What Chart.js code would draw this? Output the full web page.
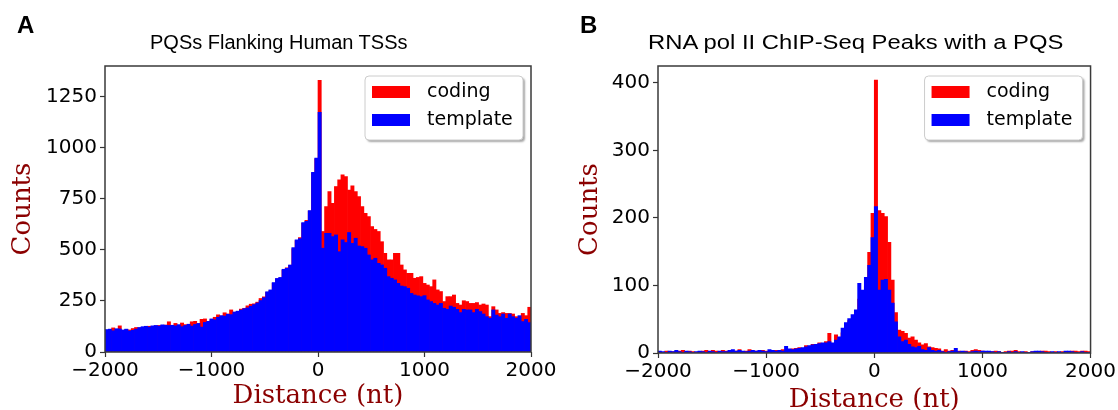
<!DOCTYPE html>
<html lang="en">
<head>
<meta charset="UTF-8">
<script src="https://cdn.jsdelivr.net/npm/chart.js"></script>
<title>PQS histograms</title>
<style>
  body { margin: 0; background: #fff; width: 1118px; height: 410px; position: relative; overflow: hidden; }
  .panel { position: absolute; top: 0; }
  .letter { position: absolute; font: bold 24px "Liberation Sans", Arial, sans-serif; line-height: 24px; }
  .title { position: absolute; font: 20px "Liberation Sans", Arial, sans-serif; line-height: 20px; white-space: nowrap; transform-origin: left top; }
</style>
</head>
<body>
<canvas class="panel" id="panelA" width="559" height="410" style="left:0"></canvas>
<canvas class="panel" id="panelB" width="559" height="410" style="left:559px"></canvas>
<div class="letter" style="left:17px; top:13px">A</div>
<div class="title" style="left:150px; top:32px">PQSs Flanking Human TSSs</div>
<div class="letter" style="left:580px; top:13px">B</div>
<div class="title" style="left:648px; top:32px; transform: scaleX(1.19)">RNA pol II ChIP-Seq Peaks with a PQS</div>
<script>
const xTicks = [-2000, -1000, 0, 1000, 2000];
const yTicksA = [0, 250, 500, 750, 1000, 1250];
const yTicksB = [0, 100, 200, 300, 400];
const binCount = 130; // ~31 nt bins from -2000 to 2000

// panel A: PQSs flanking human TSSs
const codingA = [
  106,108,118,110,128,104,110,108,115,120,
  118,120,124,126,125,128,130,128,132,148,
  128,140,130,142,134,130,148,150,138,160,
  162,150,158,170,182,176,192,186,206,194,
  198,210,214,226,234,236,244,262,270,292,
  300,336,358,362,400,412,424,505,545,560,
  630,645,690,875,945,1330,
  590,712,785,728,810,843,867,859,793,813,
  785,761,712,679,663,614,600,590,540,483,
  451,451,483,483,426,402,385,385,361,365,
  369,336,328,320,353,304,296,247,271,271,
  279,238,230,251,247,238,238,242,230,235,
  230,173,222,206,189,193,189,189,186,173,
  165,189,178,219
];
const templateA = [
  110,112,104,114,113,108,112,103,106,112,
  120,124,126,122,128,130,127,133,131,130,
  131,128,134,124,130,136,127,135,140,122,
  145,150,162,158,170,178,176,185,183,196,
  200,205,212,216,224,232,240,252,266,295,
  304,340,360,365,405,410,426,511,549,555,
  634,640,692,880,949,1173,
  508,581,581,565,573,491,549,536,585,532,
  557,519,516,508,475,451,459,434,426,410,
  369,361,353,336,323,320,312,287,279,275,
  271,276,255,247,238,230,238,214,209,225,
  219,209,193,209,206,206,193,209,198,186,
  173,165,206,181,173,186,165,186,173,165,
  178,149,160,144
];

// panel B: RNA pol II ChIP-Seq peaks with a PQS
const codingB = [
  2,1,3,2,2,1,3,4,1,3,
  2,1,2,3,4,2,4,3,2,4,
  3,2,2,3,5,2,3,5,2,3,
  2,4,3,2,3,4,3,5,
  4,5,6,7,8,7,11,10,13,12,
  15,13,17,29,14,27,22,30,40,48,
  50,60,80,85,100,149,207,404,
  211,207,202,164,108,60,34,32,29,22,
  24,19,15,12,14,9,8,7,6,3,5,
  3,4,2,3,2,3,2,4,5,4,
  3,2,1,2,3,2,1,2,3,3,
  4,2,1,2,1,2,1,2,3,3,
  2,1,2,1,2,1,2,3,3,2,
  3,3,2
];
const templateB = [
  3,2,1,3,2,4,2,1,3,2,
  1,2,3,2,1,3,2,1,3,2,
  2,4,5,3,4,3,2,3,4,3,
  4,3,2,5,4,3,4,3,
  10,6,5,6,7,8,9,11,12,13,
  14,15,15,17,15,19,24,37,45,51,
  57,64,103,93,112,130,171,217,
  93,108,109,93,74,46,24,17,19,13,
  9,8,10,5,4,8,4,3,4,2,1,
  2,3,7,2,3,2,1,2,3,2,
  3,3,3,2,1,2,1,1,2,1,
  2,1,2,1,1,2,3,3,2,1,
  1,2,1,2,1,3,3,2,1,1,
  2,1,1
];

const binWidth = 4000 / binCount;
const binCenters = codingA.map((_, i) => -2000 + binWidth * (i + 0.5));

const fmt = v => String(v).replace('-', '\u2212');
const tickFont = { family: 'DejaVu Sans', size: 20 };
const labelFont = { family: 'DejaVu Serif', size: 26, lineHeight: 1 };

// spines all round plus matplotlib style legend box
const frameAndLegend = {
  id: 'frameAndLegend',
  afterDatasetsDraw(chart) {
    const { ctx, chartArea: a } = chart;
    ctx.save();
    ctx.strokeStyle = '#3a3a3a';
    ctx.lineWidth = 1.5;
    ctx.strokeRect(a.left, a.top, a.right - a.left, a.bottom - a.top);

    const w = 158, h = 64;
    const x = a.right - 8 - w, y = a.top + 10;
    ctx.shadowColor = 'rgba(0,0,0,0.35)';
    ctx.shadowOffsetX = 2;
    ctx.shadowOffsetY = 2;
    ctx.shadowBlur = 2;
    ctx.beginPath();
    ctx.roundRect(x, y, w, h, 4);
    ctx.fillStyle = '#fff';
    ctx.fill();
    ctx.shadowColor = 'transparent';
    ctx.strokeStyle = '#cccccc';
    ctx.lineWidth = 1;
    ctx.stroke();

    ctx.font = '19px "DejaVu Sans"';
    ctx.textBaseline = 'middle';
    chart.data.datasets.forEach((ds, i) => {
      const cy = y + 16 + i * 28;
      ctx.fillStyle = ds.backgroundColor;
      ctx.fillRect(x + 7, cy - 6, 38, 12);
      ctx.fillStyle = '#000';
      ctx.fillText(ds.label, x + 62, cy);
    });
    ctx.restore();
  }
};

function makeChart(id, coding, template, yMax, yTicks, o) {
  return new Chart(document.getElementById(id), {
    type: 'bar',
    data: {
      datasets: [
        { label: 'coding', data: coding.map((v, i) => ({ x: binCenters[i], y: v })), backgroundColor: '#ff0000', order: 2 },
        { label: 'template', data: template.map((v, i) => ({ x: binCenters[i], y: v })), backgroundColor: '#0000ff', order: 1 }
      ]
    },
    options: {
      responsive: false,
      animation: false,
      layout: { padding: { top: 66, right: o.right, left: 0, bottom: 0 } },
      datasets: { bar: { grouped: false, barPercentage: 1, categoryPercentage: 1, borderWidth: 0 } },
      plugins: { legend: { display: false }, tooltip: { enabled: false } },
      scales: {
        x: {
          type: 'linear', offset: false, min: -2000, max: 2000,
          afterBuildTicks: s => { s.ticks = xTicks.map(v => ({ value: v })); },
          afterFit: s => { s.height = o.xHeight; },
          grid: { offset: false, drawOnChartArea: false, tickLength: 5, tickWidth: 1.2, tickColor: '#333' },
          border: { display: false },
          ticks: { font: tickFont, color: '#000', callback: fmt, maxRotation: 0, autoSkip: false, padding: 2 },
          title: { display: true, text: 'Distance (nt)', font: labelFont, color: '#8b0000', padding: { top: 0, bottom: o.xTitlePad } }
        },
        y: {
          min: 0, max: yMax,
          afterBuildTicks: s => { s.ticks = yTicks.map(v => ({ value: v })); },
          afterFit: s => { s.width = o.yWidth; },
          grid: { offset: false, drawOnChartArea: false, tickLength: 5, tickWidth: 1.2, tickColor: '#333' },
          border: { display: false },
          ticks: { font: tickFont, color: '#000', callback: fmt, padding: 3 },
          title: { display: true, text: 'Counts', font: labelFont, color: '#8b0000', padding: { top: o.yTitlePad, bottom: 0 } }
        }
      }
    },
    plugins: [frameAndLegend]
  });
}

makeChart('panelA', codingA, templateA, 1400, yTicksA, { right: 28, xHeight: 58, yWidth: 105, xTitlePad: 1, yTitlePad: 10 });
makeChart('panelB', codingB, templateB, 425, yTicksB, { right: 27, xHeight: 57, yWidth: 99, xTitlePad: -3, yTitlePad: 18 });
</script>
</body>
</html>
